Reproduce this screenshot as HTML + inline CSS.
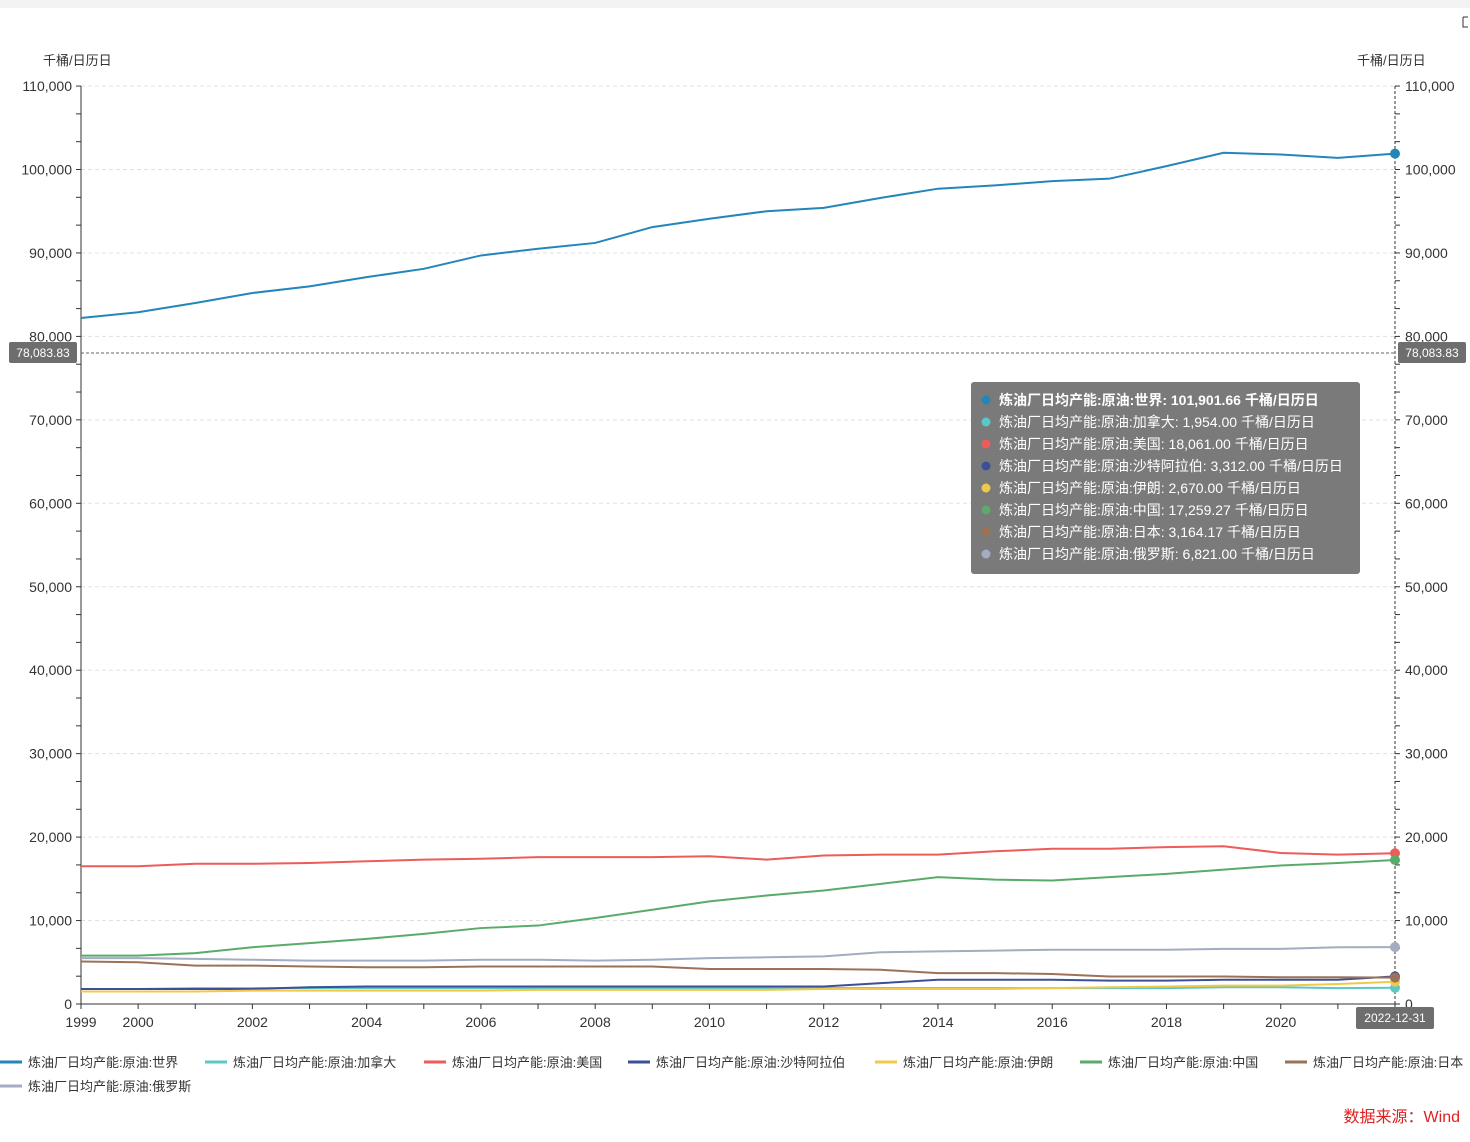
<!DOCTYPE html>
<html><head><meta charset="utf-8"><style>
body{margin:0;background:#fff;width:1470px;height:1137px;overflow:hidden;font-family:"Liberation Sans","Noto Sans CJK SC",sans-serif}
</style></head><body>
<svg id="s" width="1470" height="1137" xmlns="http://www.w3.org/2000/svg" font-family="Liberation Sans, Noto Sans CJK SC, sans-serif">
<rect x="0" y="0" width="1470" height="8" fill="#f3f3f3"/>
<path d="M1463 17 v10 h5 M1463 17 h5" stroke="#333" fill="none"/>
<text x="43" y="65" font-size="13" fill="#333">千桶/日历日</text>
<text x="1357" y="65" font-size="13" fill="#333">千桶/日历日</text>
<text x="1460" y="1122" font-size="16" fill="#e02020" text-anchor="end">数据来源：Wind</text>
</svg>
<script>
const s=document.getElementById('s');let h='';
const X0=81,X1=1395,Y0=1004,K=0.008345;
const x=i=>X0+i*(X1-X0)/23, y=v=>Y0-v*K;
for(let v=0;v<=110000;v+=10000){const yy=y(v);
 if(v>0)h+=`<line x1="81" x2="1395" y1="${yy}" y2="${yy}" stroke="#e0e0e0" stroke-dasharray="4,3"/>`;
 h+=`<text x="72" y="${yy+5}" font-size="14" fill="#333" text-anchor="end">${v.toLocaleString('en-US')}</text>`;
 h+=`<text x="1405" y="${yy+5}" font-size="14" fill="#333">${v.toLocaleString('en-US')}</text>`;}
for(let v=0;v<=110000;v+=10000/3){const yy=y(v);h+=`<line x1="76" x2="81" y1="${yy}" y2="${yy}" stroke="#333"/><line x1="1395" x2="1400" y1="${yy}" y2="${yy}" stroke="#333"/>`;}
h+=`<line x1="81" x2="81" y1="86" y2="1004" stroke="#333"/><line x1="1395" x2="1395" y1="86" y2="1004" stroke="#333" stroke-dasharray="3,2"/><line x1="81" x2="1395" y1="1004" y2="1004" stroke="#333"/>`;
for(let i=0;i<24;i++){h+=`<line x1="${x(i)}" x2="${x(i)}" y1="1004" y2="1009" stroke="#333"/>`;}
[[0,'1999'],[1,'2000'],[3,'2002'],[5,'2004'],[7,'2006'],[9,'2008'],[11,'2010'],[13,'2012'],[15,'2014'],[17,'2016'],[19,'2018'],[21,'2020']].forEach(([i,t])=>h+=`<text x="${x(i)}" y="1027" font-size="14" fill="#333" text-anchor="middle">${t}</text>`);
const S=[
['世界','#2386b9',[82200,82900,84000,85200,86000,87100,88100,89700,90500,91200,93100,94100,95000,95400,96600,97700,98100,98600,98900,100400,102000,101800,101400,101900],'101,901.66'],
['加拿大','#5bc7c7',[1800,1800,1900,1900,1900,1900,1900,1900,1900,1900,1900,1900,1900,1900,1900,1900,1900,1900,1900,1900,2000,2000,1900,1954],'1,954.00'],
['美国','#ee5b5b',[16500,16500,16800,16800,16900,17100,17300,17400,17600,17600,17600,17700,17300,17800,17900,17900,18300,18600,18600,18800,18900,18100,17900,18061],'18,061.00'],
['沙特阿拉伯','#3d4f96',[1800,1800,1800,1800,2000,2100,2100,2100,2100,2100,2100,2100,2100,2100,2500,2900,2900,2900,2800,2800,2900,2900,2900,3312],'3,312.00'],
['伊朗','#f0c94a',[1500,1500,1500,1600,1600,1600,1600,1600,1700,1700,1700,1700,1700,1800,1800,1800,1800,1900,2000,2100,2200,2200,2400,2670],'2,670.00'],
['中国','#5aab6a',[5800,5800,6100,6800,7300,7800,8400,9100,9400,10300,11300,12300,13000,13600,14400,15200,14900,14800,15200,15600,16100,16600,16900,17259],'17,259.27'],
['日本','#9b7256',[5100,5000,4600,4600,4500,4400,4400,4500,4500,4500,4500,4200,4200,4200,4100,3700,3700,3600,3300,3300,3300,3200,3200,3164],'3,164.17'],
['俄罗斯','#a3acc0',[5500,5500,5400,5300,5200,5200,5200,5300,5300,5200,5300,5500,5600,5700,6200,6300,6400,6500,6500,6500,6600,6600,6800,6821],'6,821.00']];
S.forEach(([n,c,d])=>{h+=`<polyline fill="none" stroke="${c}" stroke-width="2" points="${d.map((v,i)=>x(i)+','+y(v)).join(' ')}"/>`;});
S.forEach(([n,c,d])=>{h+=`<circle cx="1395" cy="${y(d[23])}" r="5" fill="${c}"/>`;});
h+=`<line x1="81" x2="1395" y1="353" y2="353" stroke="#666" stroke-dasharray="3,2"/>`;
h+=`<rect x="9" y="342" width="68" height="21" rx="2" fill="#6e6e6e"/><text x="43" y="357" font-size="12" fill="#fff" text-anchor="middle">78,083.83</text>`;
h+=`<rect x="1398" y="342" width="68" height="21" rx="2" fill="#6e6e6e"/><text x="1432" y="357" font-size="12" fill="#fff" text-anchor="middle">78,083.83</text>`;
h+=`<rect x="1356" y="1007" width="78" height="22" rx="2" fill="#6e6e6e"/><text x="1395" y="1022" font-size="12" fill="#fff" text-anchor="middle">2022-12-31</text>`;
h+=`<rect x="971" y="382" width="389" height="192" rx="3" fill="#7a7a7a"/>`;
S.forEach(([n,c,d,t],k)=>{const yy=400+k*22;h+=`<circle cx="986" cy="${yy}" r="4.5" fill="${c}"/><text x="999" y="${yy+5}" font-size="14" fill="#fff" ${k==0?'font-weight="bold"':''}>炼油厂日均产能:原油:${n}: ${t}  千桶/日历日</text>`;});
const L=[[0,1062],[205,1062],[424,1062],[628,1062],[875,1062],[1080,1062],[1285,1062],[0,1086]];
S.forEach(([n,c],k)=>{const [lx,ly]=L[k];h+=`<line x1="${lx}" x2="${lx+22}" y1="${ly}" y2="${ly}" stroke="${c}" stroke-width="3"/><text x="${lx+28}" y="${ly+5}" font-size="13" fill="#333">炼油厂日均产能:原油:${n}</text>`;});
s.insertAdjacentHTML('beforeend',h);
</script>
</body></html>
